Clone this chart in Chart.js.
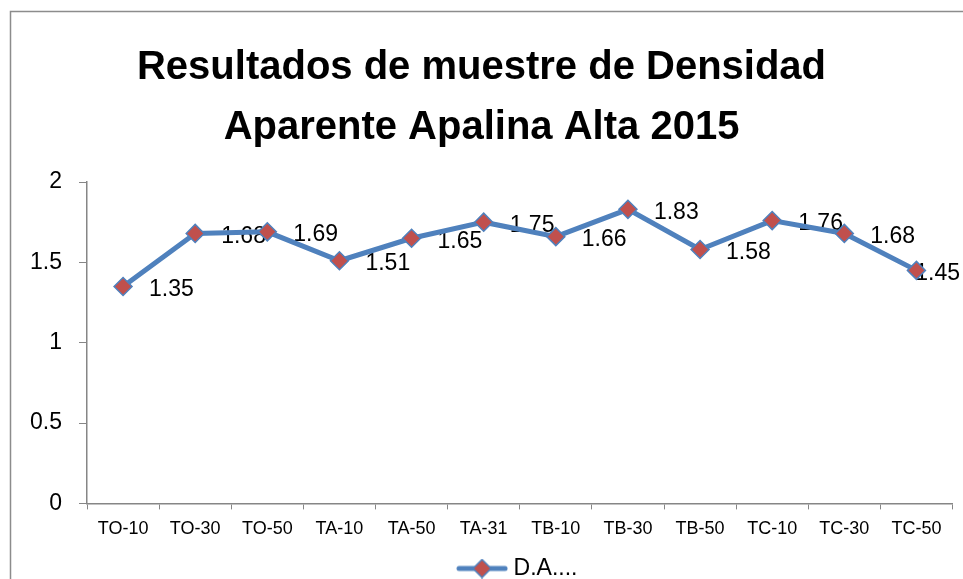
<!DOCTYPE html>
<html>
<head>
<meta charset="utf-8">
<script src="https://cdn.jsdelivr.net/npm/chart.js@4.4.1/dist/chart.umd.min.js"></script>
<style>
  html, body { margin: 0; padding: 0; background: #fff; }
  #wrap { width: 963px; height: 579px; }
</style>
</head>
<body>
<div id="wrap"><canvas id="chart" width="963" height="579"></canvas></div>
<script>
// Sample names along the x axis
var categories = ['TO-10', 'TO-30', 'TO-50', 'TA-10', 'TA-50', 'TA-31', 'TB-10', 'TB-30', 'TB-50', 'TC-10', 'TC-30', 'TC-50'];
// Densidad aparente values
var densidad = [1.35, 1.68, 1.69, 1.51, 1.65, 1.75, 1.66, 1.83, 1.58, 1.76, 1.68, 1.45];
var seriesName = 'D.A....';
var titleLines = ['Resultados de muestre de Densidad', 'Aparente Apalina Alta 2015'];
var yTickLabels = ['0', '0.5', '1', '1.5', '2'];

var lineColor = '#4F81BD';
var markerColor = '#C0504D';
var axisColor = '#868686';

// little picture for the legend: line with a diamond on it
function legendIcon() {
    var c = document.createElement('canvas');
    c.width = 52; c.height = 20;
    var g = c.getContext('2d');
    g.strokeStyle = lineColor;
    g.lineWidth = 5;
    g.lineCap = 'round';
    g.beginPath(); g.moveTo(3, 10); g.lineTo(49, 10); g.stroke();
    g.beginPath();
    g.moveTo(26, 1); g.lineTo(35, 10); g.lineTo(26, 19); g.lineTo(17, 10); g.closePath();
    g.fillStyle = markerColor; g.fill();
    g.lineWidth = 1.5; g.strokeStyle = lineColor; g.stroke();
    return c;
}

// gray frame around the whole chart
var framePlugin = {
    id: 'frame',
    beforeDraw: function(chart) {
        var ctx = chart.ctx;
        ctx.save();
        ctx.strokeStyle = '#8c8c8c';
        ctx.lineWidth = 1.5;
        ctx.strokeRect(10.5, 11.5, 970, 600);
        ctx.restore();
    }
};

// value labels to the right of each point (kept inside the canvas)
var valueLabels = {
    id: 'valueLabels',
    beforeDatasetsDraw: function(chart) {
        var ctx = chart.ctx;
        var meta = chart.getDatasetMeta(0);
        ctx.save();
        ctx.font = '23px "Liberation Sans", Arial, sans-serif';
        ctx.fillStyle = '#000';
        ctx.textAlign = 'left';
        ctx.textBaseline = 'middle';
        meta.data.forEach(function(pt, i) {
            var txt = String(densidad[i]);
            var w = ctx.measureText(txt).width;
            var x = pt.x + 26;
            if (x + w > chart.width - 3) x = chart.width - 3 - w;
            ctx.fillText(txt, x, pt.y + 3);
        });
        ctx.restore();
    }
};

document.addEventListener('DOMContentLoaded', function() {
    var ctx = document.getElementById('chart').getContext('2d');
    var icon = legendIcon();
    new Chart(ctx, {
        type: 'line',
        data: {
            labels: categories,
            datasets: [{
                label: seriesName,
                data: densidad,
                borderColor: lineColor,
                borderWidth: 5,
                tension: 0,
                pointStyle: 'rectRot',
                pointRadius: 9,
                pointBackgroundColor: markerColor,
                pointBorderColor: lineColor,
                pointBorderWidth: 1.5
            }]
        },
        options: {
            responsive: false,
            animation: false,
            layout: { padding: { left: 0, right: 0, top: 0, bottom: -11 } },
            plugins: {
                title: {
                    display: true,
                    text: titleLines,
                    color: '#000',
                    font: { family: '"Liberation Sans", Arial, sans-serif', size: 40, weight: 'bold', lineHeight: 1.5 },
                    padding: { top: 38, bottom: 24 }
                },
                legend: {
                    position: 'bottom',
                    fullSize: false,
                    labels: {
                        usePointStyle: true,
                        pointStyleWidth: 40,
                        color: '#000',
                        font: { family: '"Liberation Sans", Arial, sans-serif', size: 23 },
                        padding: 6,
                        generateLabels: function() {
                            return [{ text: seriesName, pointStyle: icon, fillStyle: markerColor, strokeStyle: lineColor, lineWidth: 0, datasetIndex: 0 }];
                        }
                    }
                },
                tooltip: { enabled: false }
            },
            scales: {
                x: {
                    offset: true,
                    afterFit: function(scale) { scale.height += 2; },
                    grid: { display: true, offset: true, drawOnChartArea: false, drawTicks: true, tickLength: 6, color: axisColor },
                    border: { color: axisColor, width: 1.5 },
                    ticks: {
                        color: '#000',
                        padding: 9,
                        maxRotation: 0,
                        autoSkip: false,
                        font: { family: '"Liberation Sans", Arial, sans-serif', size: 18 }
                    }
                },
                y: {
                    min: 0,
                    max: 2,
                    afterFit: function(scale) { scale.width = 87; },
                    grid: { display: true, drawOnChartArea: false, drawTicks: true, tickLength: 8, color: axisColor },
                    border: { color: axisColor, width: 1.5 },
                    ticks: {
                        stepSize: 0.5,
                        color: '#000',
                        padding: 17,
                        font: { family: '"Liberation Sans", Arial, sans-serif', size: 23 },
                        callback: function(v) {
                            var i = Math.round(v / 0.5);
                            return yTickLabels[i];
                        }
                    }
                }
            }
        },
        plugins: [framePlugin, valueLabels]
    });
});
</script>
</body>
</html>
